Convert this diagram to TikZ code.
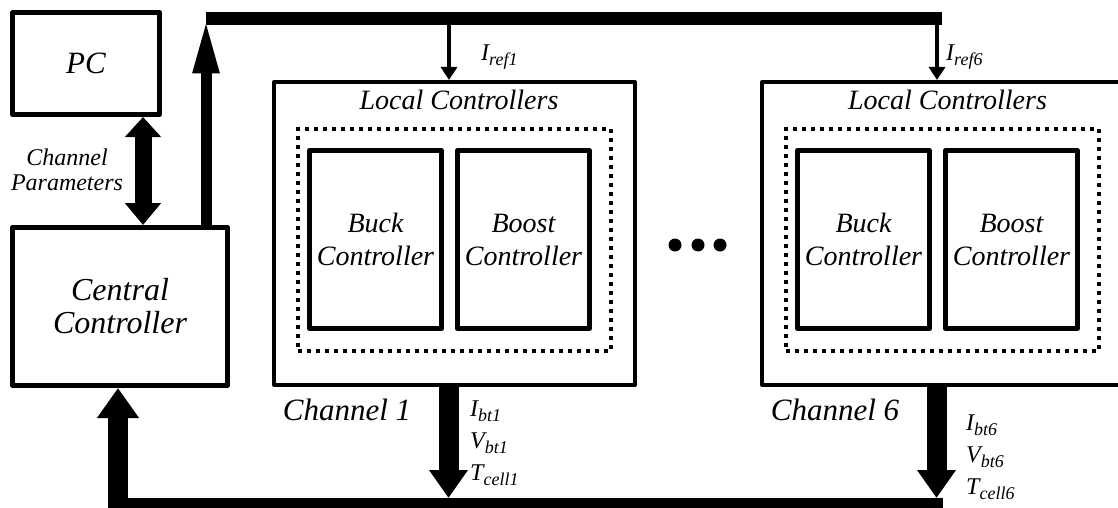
\documentclass[tikz,border=0pt]{standalone}
\usepackage{fontspec}
\setmainfont{Liberation Serif}
\newfontfamily\serifit{Liberation Serif}
\usepackage{tikz}
\usetikzlibrary{positioning}
\usetikzlibrary{calc}
\usetikzlibrary{arrows.meta}
\tikzstyle{block}=[draw, line width=5pt, inner sep=0pt, align=center, line join=round]
\tikzstyle{channel}=[draw, line width=4pt, minimum width=361pt, minimum height=303pt, line join=round]
\tikzstyle{local}=[draw, line width=4pt, dash pattern=on 4pt off 5pt, minimum width=313pt, minimum height=222pt]
\tikzstyle{ctrl}=[block, minimum width=132pt, minimum height=178pt, font=\serifit\fontsize{28}{33}\selectfont\itshape]
\tikzstyle{title}=[inner sep=0pt, font=\serifit\fontsize{28}{30}\selectfont\itshape]
\tikzstyle{lbl}=[inner sep=0pt, font=\serifit\fontsize{24}{32}\selectfont\itshape, align=left]
\tikzstyle{bus}=[line width=13pt]
\tikzstyle{fat}=[line width=20pt, -{Triangle[width=37pt,length=28pt]}]
\tikzstyle{ref}=[line width=4pt, -{Triangle[width=16pt,length=13pt]}]
\newcommand{\sig}[2]{#1\raisebox{-0.45ex}{\fontsize{18}{18}\selectfont #2}}

\begin{document}
\begin{tikzpicture}[x=1pt, y=-1pt]
    \useasboundingbox (0,0) rectangle (1118,508);

    \node [block, minimum width=147pt, minimum height=102pt, font=\serifit\fontsize{31}{33}\selectfont\itshape] (pc) at (86,63.5) {PC};
    \node [block, minimum width=215pt, minimum height=158pt, font=\serifit\fontsize{32}{33}\selectfont\itshape] (central) at (120,306.5) {Central\\Controller};
    \node [lbl, align=center, font=\serifit\fontsize{24}{25}\selectfont\itshape] (params) at (67,170) {Channel\\Parameters};

    % channel 1
    \node [channel] (ch1) at (454.5,233.5) {};
    \node [local] (loc1) at (454.5,240) {};
    \node [ctrl] (buck1) at (375.5,239.5) {Buck\\Controller};
    \node [ctrl] (boost1) at (523.5,239.5) {Boost\\Controller};
    \node [title] (loctxt1) at (459,100) {Local Controllers};
    \node [title, font=\serifit\fontsize{31}{33}\selectfont\itshape] (name1) at (347,410) {Channel 1};

    % channel 6
    \node [channel] (ch6) at (942.5,233.5) {};
    \node [local] (loc6) at (942.5,240) {};
    \node [ctrl] (buck6) at (863.5,239.5) {Buck\\Controller};
    \node [ctrl] (boost6) at (1011.5,239.5) {Boost\\Controller};
    \node [title] (loctxt6) at (947.5,100) {Local Controllers};
    \node [title, font=\serifit\fontsize{31}{33}\selectfont\itshape] (name6) at (835,410) {Channel 6};

    \foreach \x in {675,698,720}
    \fill (\x,245) circle [radius=6.5pt];

    \node [lbl, anchor=west] (iref1) at (481,57) {\sig{I}{ref1}};
    \node [lbl, anchor=west] (iref6) at (946,57) {\sig{I}{ref6}};
    \node [lbl, anchor=north west] (meas1) at (470,401) {\sig{I}{bt1}\\\sig{V}{bt1}\\\sig{T}{cell1}};
    \node [lbl, anchor=north west] (meas6) at (966,415) {\sig{I}{bt6}\\\sig{V}{bt6}\\\sig{T}{cell6}};

    \coordinate (topL) at (206,18.5);
    \coordinate (topR) at (942,18.5);
    \coordinate (botL) at (118,504);
    \coordinate (botR) at (943,504);
    \coordinate (link) at (143,0);

    \draw [bus] (topL) -- (topR);
    \draw [bus] (botL) -- (botR);

    \draw [line width=17pt, {Triangle[width=35pt,length=20pt]}-{Triangle[width=35pt,length=22pt]}] (link |- pc.south) -- (link |- central.north);
    \draw [line width=11pt, -{Triangle[width=24pt,length=55pt]}] (central.north -| topL) -- (topL);
    \draw [fat, line width=20pt, -{Triangle[width=40pt,length=30pt]}] ([yshift=-6pt]botL) -- (botL |- central.south);

    \foreach \i in {1,6}
    \draw [ref] ([xshift=-5.5pt]ch\i.north |- topL) -- ([xshift=-5.5pt]ch\i.north);

    \foreach \i in {1,6}
    \draw [fat] ([xshift=-6pt]ch\i.south) -- ($(ch\i.south |- botL)+(-6,-6)$);
  \end{tikzpicture}
\end{document}
